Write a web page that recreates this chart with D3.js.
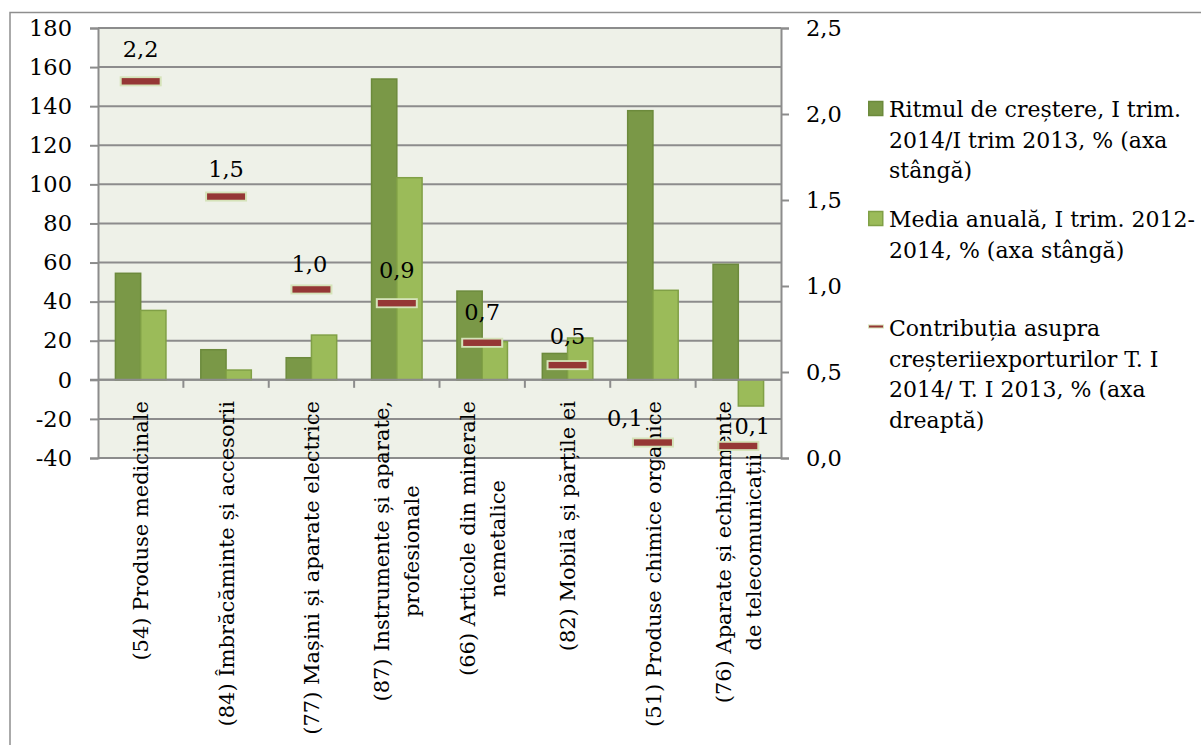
<!DOCTYPE html>
<html>
<head>
<meta charset="utf-8">
<script src="https://cdn.jsdelivr.net/npm/d3@7/dist/d3.min.js"></script>
<style>
  html, body { margin: 0; padding: 0; background: #ffffff; }
  svg { display: block; }
  text { font-family: "DejaVu Serif", serif; fill: #000; }
</style>
</head>
<body>
<svg id="chart" width="1201" height="745"></svg>
<script>
// Product groups (SITC codes), line breaks mark wrapped labels
const categories = [
  "(54) Produse medicinale",
  "(84) Îmbrăcăminte și accesorii",
  "(77) Mașini și aparate electrice",
  "(87) Instrumente și aparate,\nprofesionale",
  "(66) Articole din minerale\nnemetalice",
  "(82) Mobilă și părțile ei",
  "(51) Produse chimice organice",
  "(76) Aparate și echipamente\nde telecomunicații"
];

// Growth rate, Q1 2014 / Q1 2013, % (left axis)
const growthRate = [54.5, 15.4, 11.3, 153.9, 45.4, 13.5, 137.7, 59.1];
// Annual average, Q1 2012-2014, % (left axis)
const annualAverage = [35.5, 5.0, 22.9, 103.4, 19.5, 21.4, 45.8, -13.4];
// Contribution to export growth, percentage points (right axis)
const contribution = [2.19, 1.52, 0.98, 0.90, 0.67, 0.54, 0.09, 0.07];

const leftTicks = [-40, -20, 0, 20, 40, 60, 80, 100, 120, 140, 160, 180];
const rightTicks = [0, 0.5, 1.0, 1.5, 2.0, 2.5];

const seriesNames = [
  ["Ritmul de creștere, I trim.", "2014/I trim 2013, % (axa", "stângă)"],
  ["Media anuală, I trim. 2012-", "2014, % (axa stângă)"],
  ["Contribuția asupra", "creșteriiexporturilor T. I", "2014/ T. I 2013, % (axa", "dreaptă)"]
];

// Hand-placed offsets of the contribution labels (dx, distance above marker)
const labelNudge = [[0, 24], [0, 20], [-2, 17], [0, 25], [0, 23], [0, 21], [-28, 17], [14, 12]];

const colors = {
  growth: "#7a9847", growthStroke: "#6c8a3c",
  average: "#9bbb59", averageStroke: "#80a046",
  marker: "#953735", markerGlow: "#d5e3b9",
  plotBg: "#eef1e8", grid: "#8c8c8c", frame: "#8e8e8e"
};

const svg = d3.select("#chart");
const plot = { left: 98, right: 781, top: 28, bottom: 458 };

const y = d3.scaleLinear().domain([-40, 180]).range([plot.bottom, plot.top]);
const y2 = d3.scaleLinear().domain([0, 2.5]).range([plot.bottom, plot.top]);
const x = d3.scaleBand().domain(d3.range(categories.length)).range([plot.left, plot.right]).padding(0);
const xs = d3.scaleBand().domain(["growth", "average"]).range([0, x.bandwidth()])
  .paddingInner(0).paddingOuter(0.69);

const comma = f => (v => f(v).replace(".", ","));
const fmt1 = comma(d3.format(".1f"));

// outer chart frame
svg.append("path")
  .attr("d", "M10,745V12.5H1201")
  .attr("fill", "none").attr("stroke", colors.frame).attr("stroke-width", 1.5);

// plot background
svg.append("rect")
  .attr("x", plot.left).attr("y", plot.top)
  .attr("width", plot.right - plot.left).attr("height", plot.bottom - plot.top)
  .attr("fill", colors.plotBg);

// horizontal gridlines
svg.append("g").selectAll("line").data(leftTicks).join("line")
  .attr("x1", plot.left).attr("x2", plot.right)
  .attr("y1", d => y(d)).attr("y2", d => y(d))
  .attr("stroke", colors.grid).attr("stroke-width", 2);

// left axis
const axL = svg.append("g").attr("transform", `translate(${plot.left},0)`)
  .call(d3.axisLeft(y).tickValues(leftTicks).tickSize(8).tickPadding(18).tickFormat(d => String(d)));
// right axis
const axR = svg.append("g").attr("transform", `translate(${plot.right},0)`)
  .call(d3.axisRight(y2).tickValues(rightTicks).tickSize(8).tickPadding(17).tickFormat(fmt1));
[axL, axR].forEach(ax => {
  ax.select(".domain").attr("stroke", colors.grid).attr("stroke-width", 2);
  ax.selectAll(".tick line").attr("stroke", colors.grid).attr("stroke-width", 2);
  ax.selectAll(".tick text").attr("font-size", 22.5).attr("font-family", "DejaVu Serif").attr("fill", "#000");
});

// bars
const groups = svg.append("g").selectAll("g").data(categories.map((c, i) => i)).join("g")
  .attr("transform", i => `translate(${x(i)},0)`);
groups.append("rect")
  .attr("x", xs("growth")).attr("width", xs.bandwidth())
  .attr("y", i => y(Math.max(0, growthRate[i])))
  .attr("height", i => Math.abs(y(growthRate[i]) - y(0)))
  .attr("fill", colors.growth).attr("stroke", colors.growthStroke).attr("stroke-width", 1.5);
groups.append("rect")
  .attr("x", xs("average")).attr("width", xs.bandwidth())
  .attr("y", i => y(Math.max(0, annualAverage[i])))
  .attr("height", i => Math.abs(y(annualAverage[i]) - y(0)))
  .attr("fill", colors.average).attr("stroke", colors.averageStroke).attr("stroke-width", 1.5);

// category axis along zero
svg.append("line")
  .attr("x1", plot.left - 8).attr("x2", plot.right)
  .attr("y1", y(0)).attr("y2", y(0))
  .attr("stroke", colors.grid).attr("stroke-width", 2);
svg.append("g").selectAll("line").data(d3.range(1, categories.length)).join("line")
  .attr("x1", i => x(i)).attr("x2", i => x(i))
  .attr("y1", y(0)).attr("y2", y(0) + 8)
  .attr("stroke", colors.grid).attr("stroke-width", 2);

// rotated category labels
const labelTop = 401, lineH = 30;
categories.forEach((c, i) => {
  const lines = c.split("\n");
  const g = svg.append("g")
    .attr("transform", `translate(${x(i) + x.bandwidth() / 2},${labelTop}) rotate(-90)`);
  const texts = lines.map((ln, k) => g.append("text")
    .attr("font-size", 21)
    .attr("y", (k - (lines.length - 1) / 2) * lineH)
    .attr("dy", "0.36em")
    .text(ln));
  const maxLen = d3.max(texts, t => t.node().getComputedTextLength());
  texts.forEach(t => t.attr("text-anchor", "middle").attr("x", -maxLen / 2));
});

// contribution markers (dash symbols)
const mk = svg.append("g");
contribution.forEach((v, i) => {
  const cx = x(i) + x.bandwidth() / 2, cy = y2(v);
  mk.append("rect")
    .attr("x", cx - 21).attr("y", cy - 5).attr("width", 42).attr("height", 10)
    .attr("fill", colors.markerGlow);
  mk.append("rect")
    .attr("x", cx - 19).attr("y", cy - 3.2).attr("width", 38).attr("height", 6.4)
    .attr("fill", colors.marker);
  mk.append("text")
    .attr("x", cx + labelNudge[i][0]).attr("y", cy - labelNudge[i][1])
    .attr("text-anchor", "middle").attr("font-size", 22.5)
    .text(fmt1(v));
});

// legend
const leg = svg.append("g");
const legendX = 868, textX = 889;
const legendBase = [117, 227, 336];
seriesNames.forEach((lines, k) => {
  const base = legendBase[k];
  if (k < 2) {
    leg.append("rect")
      .attr("x", legendX + 0.75).attr("y", base - 15.5)
      .attr("width", 14).attr("height", 14)
      .attr("fill", k === 0 ? colors.growth : colors.average)
      .attr("stroke", k === 0 ? colors.growthStroke : colors.averageStroke).attr("stroke-width", 1.5);
  } else {
    leg.append("rect").attr("x", legendX).attr("y", base - 11.5).attr("width", 16).attr("height", 4)
      .attr("fill", colors.markerGlow);
    leg.append("rect").attr("x", legendX + 1).attr("y", base - 10.5).attr("width", 14).attr("height", 2)
      .attr("fill", colors.marker);
  }
  lines.forEach((ln, j) => {
    leg.append("text").attr("x", textX).attr("y", base + j * 30.5)
      .attr("font-size", 22).text(ln);
  });
});
</script>
</body>
</html>
